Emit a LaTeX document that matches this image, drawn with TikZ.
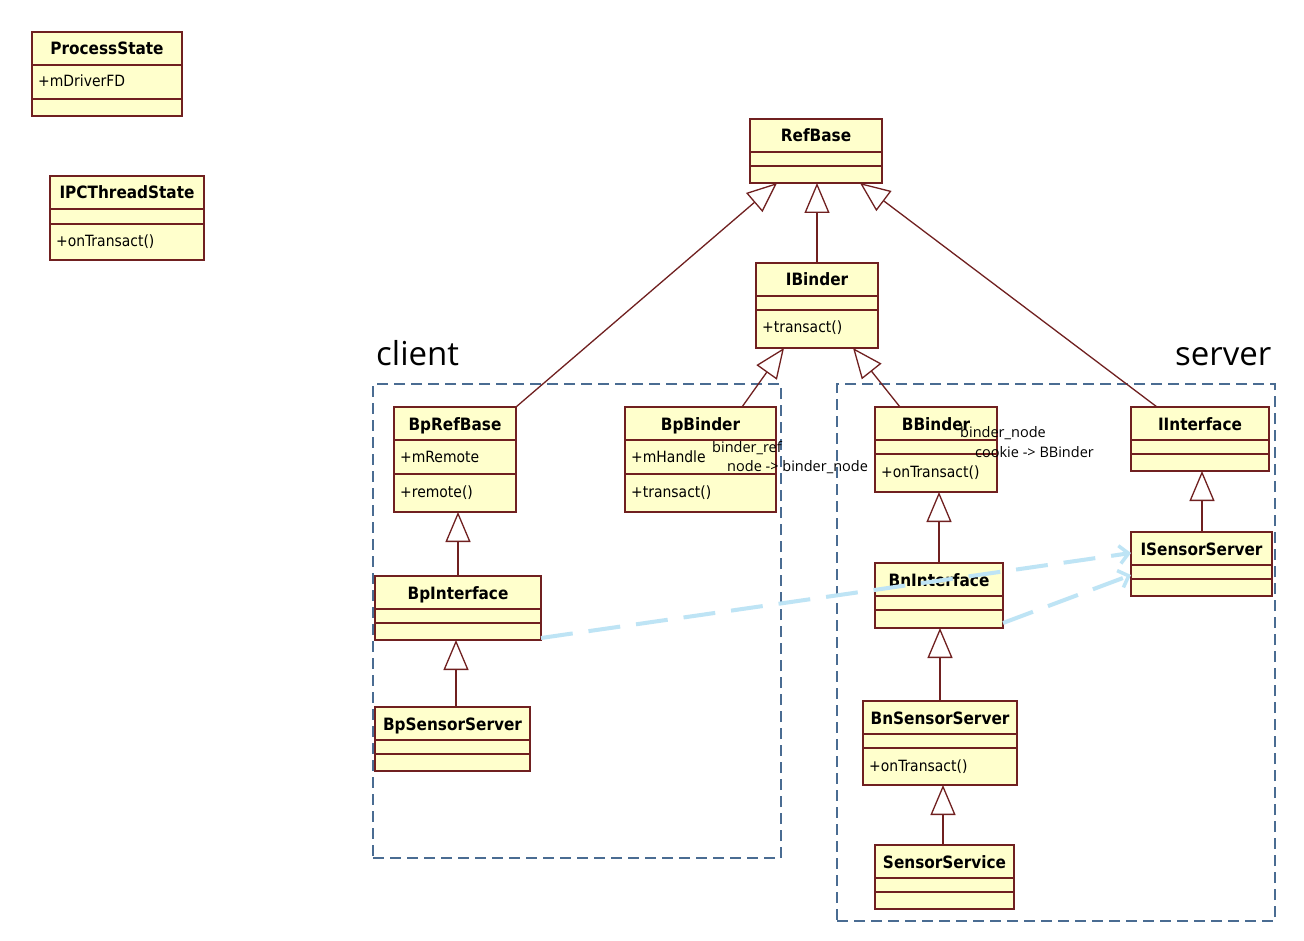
\documentclass[tikz,border=0pt]{standalone}
\usepackage{fontspec}
\usetikzlibrary{arrows.meta}
\newfontfamily\umlfont{DejaVu Sans Condensed}
\newfontfamily\notefont{Open Sans}
\definecolor{umlfill}{RGB}{255,255,204}
\definecolor{umlline}{RGB}{112,32,32}
\definecolor{framecol}{RGB}{74,108,146}
\definecolor{realcol}{RGB}{190,228,245}

\tikzset{
  classbox/.style={draw=umlline, fill=umlfill, line width=1.4pt, rectangle, inner sep=0pt, outer sep=0pt},
  classline/.style={draw=umlline, line width=1.4pt},
  titletext/.style={anchor=base, inner sep=0pt, font=\umlfont\bfseries\fontsize{17}{20}\selectfont},
  membertext/.style={anchor=base west, inner sep=0pt, font=\umlfont\fontsize{15.5}{18}\selectfont},
  inherit/.style={draw=umlline, line width=1.3pt, line join=miter,
    -{Triangle[fill=white, length=30pt, width=25pt, line width=1.3pt]}},
  realize/.style={draw=realcol, line width=4pt, dash pattern=on 32pt off 16pt,
    -{Straight Barb[length=9pt, width=18pt, line width=3.5pt]}},
  frame/.style={draw=framecol, line width=1.8pt, dash pattern=on 11pt off 6pt, rectangle, inner sep=0pt, outer sep=0pt},
  notetext/.style={anchor=base west, inner sep=0pt, font=\notefont\fontsize{14.5}{17}\selectfont},
  sidetext/.style={anchor=base west, inner sep=0pt, font=\notefont\fontsize{33}{38}\selectfont}
}

% #1 name, #2 x, #3 y, #4 width, #5 height, #6 second row height,
% #7 class name, #8 attributes, #9 operations
\newcommand{\umlclass}[9]{%
  \node[classbox, minimum width=#4pt, minimum height=#5pt, anchor=north west] (#1) at (#2,#3) {};
  \draw[classline] ([yshift=-33pt]#1.north west) -- ([yshift=-33pt]#1.north east);
  \draw[classline] ([yshift={-33pt-#6pt}]#1.north west) -- ([yshift={-33pt-#6pt}]#1.north east);
  \node[titletext] (#1-t) at ([yshift=-23pt]#1.north) {#7};
  \node[membertext] (#1-a) at ([xshift=6pt,yshift=-55pt]#1.north west) {#8};
  \node[membertext] (#1-o) at ([xshift=6pt,yshift={-56pt-#6pt}]#1.north west) {#9};
}

\begin{document}
\begin{tikzpicture}[x=1pt,y=-1pt]
\useasboundingbox[fill=white] (0,0) rectangle (1304,941);

% process / client / server regions
\node[frame, minimum width=408pt, minimum height=474pt, anchor=north west] (clientframe) at (373,384) {};
\node[frame, minimum width=438pt, minimum height=537pt, anchor=north west] (serverframe) at (837,384) {};
\node[sidetext] (clientlabel) at (376,366) {client};
\node[sidetext] (serverlabel) at (1175,366) {server};

% classes
\umlclass{processstate}{32}{32}{150}{84}{34}{ProcessState}{+mDriverFD}{}
\umlclass{ipcthreadstate}{50}{176}{154}{84}{15}{IPCThreadState}{}{+onTransact()}
\umlclass{refbase}{750}{119}{132}{64}{14}{RefBase}{}{}
\umlclass{ibinder}{756}{263}{122}{85}{14}{IBinder}{}{+transact()}
\umlclass{bprefbase}{394}{407}{122}{105}{34}{BpRefBase}{+mRemote}{+remote()}
\umlclass{bpbinder}{625}{407}{151}{105}{34}{BpBinder}{+mHandle}{+transact()}
\umlclass{bbinder}{875}{407}{122}{85}{14}{BBinder}{}{+onTransact()}
\umlclass{iinterface}{1131}{407}{138}{64}{14}{IInterface}{}{}
\umlclass{isensorserver}{1131}{532}{141}{64}{14}{ISensorServer}{}{}
\umlclass{bninterface}{875}{563}{128}{65}{14}{BnInterface}{}{}
\umlclass{bpinterface}{375}{576}{166}{64}{14}{BpInterface}{}{}
\umlclass{bpsensorserver}{375}{707}{155}{64}{14}{BpSensorServer}{}{}
\umlclass{bnsensorserver}{863}{701}{154}{84}{14}{BnSensorServer}{}{+onTransact()}
\umlclass{sensorservice}{875}{845}{139}{64}{14}{SensorService}{}{}

% generalisations
\draw[inherit] (ibinder.north) -- (ibinder.north |- refbase.south);
\draw[inherit] (bprefbase.north east) -- ([xshift=27pt]refbase.south west);
\draw[inherit] ([xshift=26pt]iinterface.north west) -- ([xshift=-22pt]refbase.south east);
\draw[inherit] ([xshift=117pt]bpbinder.north west) -- ([xshift=28pt]ibinder.south west);
\draw[inherit] ([xshift=25pt]bbinder.north west) -- ([xshift=-25pt]ibinder.south east);
\draw[inherit] ([xshift=83pt]bpinterface.north west) -- ([xshift=83pt]bpinterface.north west |- bprefbase.south);
\draw[inherit] ([xshift=81pt]bpsensorserver.north west) -- ([xshift=81pt]bpsensorserver.north west |- bpinterface.south);
\draw[inherit] (bninterface.north) -- (bninterface.north |- bbinder.south);
\draw[inherit] ([xshift=77pt]bnsensorserver.north west) -- ([xshift=77pt]bnsensorserver.north west |- bninterface.south);
\draw[inherit] ([xshift=68pt]sensorservice.north west) -- ([xshift=68pt]sensorservice.north west |- bnsensorserver.south);
\draw[inherit] ([xshift=71pt]isensorserver.north west) -- ([xshift=71pt]isensorserver.north west |- iinterface.south);

% realisations of ISensorServer
\draw[realize] ([yshift=2pt]bpinterface.south east) -- ([yshift=-21pt]isensorserver.north west);
\draw[realize] ([yshift=5pt]bninterface.south east) -- ([yshift=-43pt]isensorserver.north west);

% driver-side notes
\node[notetext] (refnote1) at (712,452) {binder\_ref};
\node[notetext] (refnote2) at (727,471) {node -> binder\_node};
\node[notetext] (nodenote1) at (960,437) {binder\_node};
\node[notetext] (nodenote2) at (975,457) {cookie -> BBinder};
\end{tikzpicture}
\end{document}
